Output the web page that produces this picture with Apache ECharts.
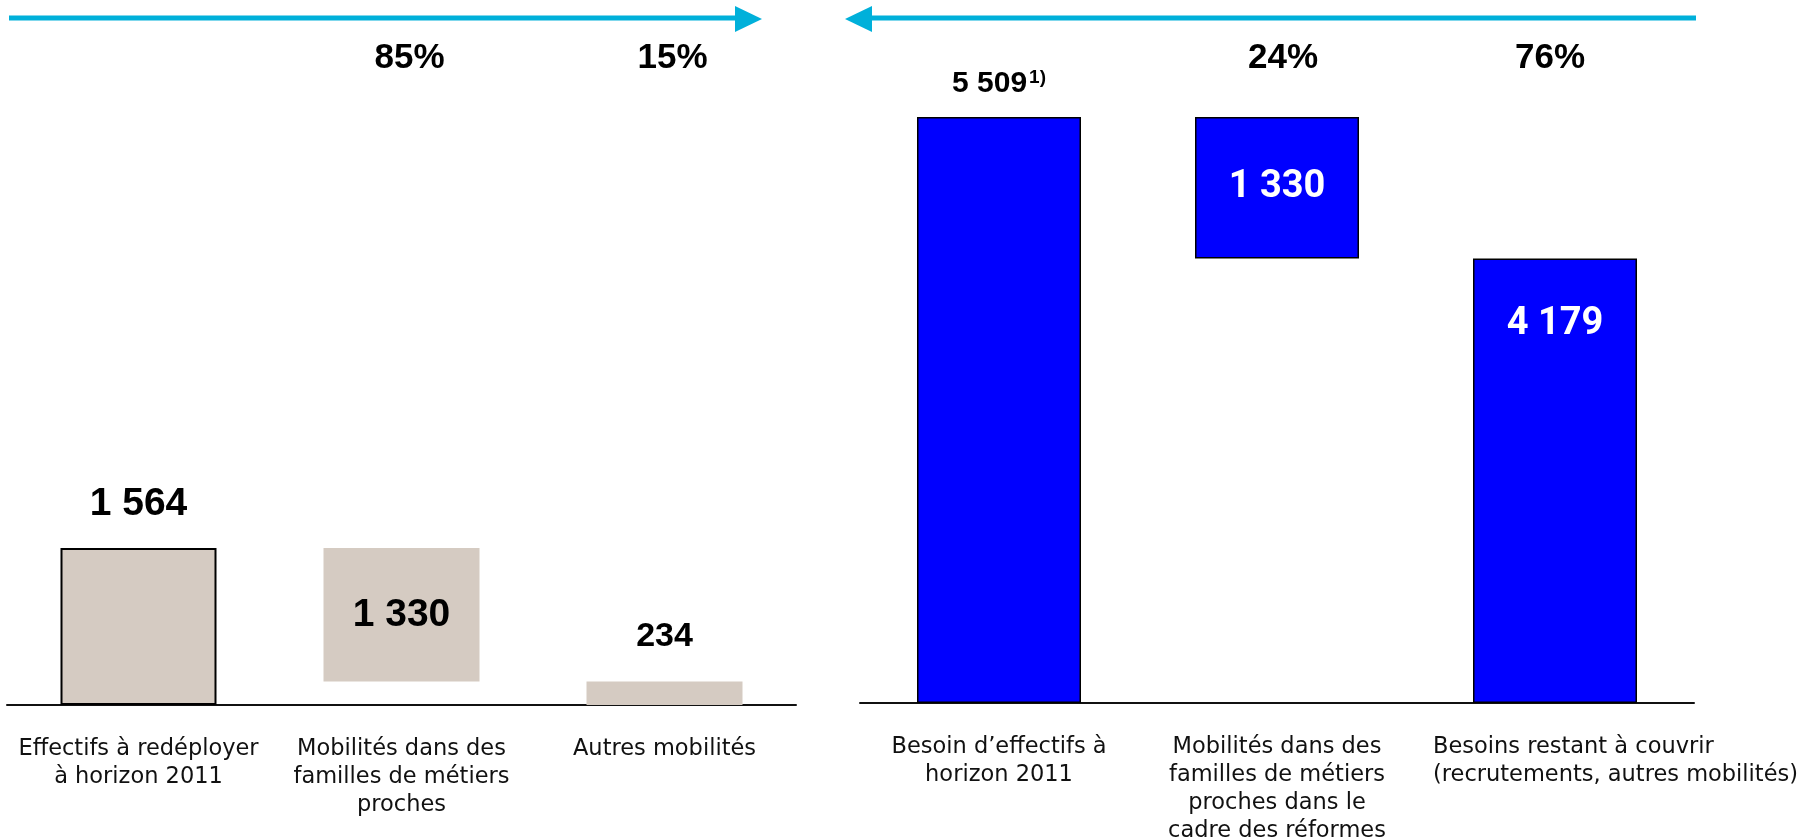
<!DOCTYPE html>
<html>
<head>
<meta charset="utf-8">
<script src="https://cdn.jsdelivr.net/npm/echarts@6/dist/echarts.min.js"></script>
<style>
html,body{margin:0;padding:0;background:#fff;}
#chart{width:1800px;height:839px;}
</style>
</head>
<body>
<div id="chart"></div>
<script>
// ---- data ----
const leftCategories = ['Effectifs à redéployer\nà horizon 2011', 'Mobilités dans des\nfamilles de métiers\nproches', 'Autres mobilités'];
const leftBase = [0, 234, 0];
const leftValues = [1564, 1330, 234];
const leftValueLabels = ['1 564', '1 330', '234'];
const leftShares = ['', '85%', '15%'];

const rightCategories = ['Besoin d’effectifs à\nhorizon 2011', 'Mobilités dans des\nfamilles de métiers\nproches dans le\ncadre des réformes', 'Besoins restant à couvrir\n(recrutements, autres mobilités)'];
const rightBase = [0, 4179, 0];
const rightValues = [5509, 1330, 4179];
const rightValueLabels = ['5 509', '1 330', '4 179'];
const rightShares = ['', '24%', '76%'];
const footnote = '1)';

// ---- styles ----
const BEIGE = '#D5CBC2';
const BLUE = '#0000FF';
const ARROW = '#00B0DA';
const NARROW = '"Liberation Sans Narrow", "Arial Narrow", "Liberation Sans", sans-serif';
const CAT_FONT = '"DejaVu Sans", sans-serif';
const CAT_SIZE = 22.5;
const leftShareShift = [0, 8, 8];
const rightShareShift = [0, 6, -5];

const chart = echarts.init(document.getElementById('chart'), null, {renderer: 'canvas'});

const leftData = leftValues.map((v, i) => {
  const item = {value: v, itemStyle: {color: BEIGE}};
  if (i === 0) { item.itemStyle.borderColor = '#000'; item.itemStyle.borderWidth = 2; }
  if (i === 1) item.label = {position: 'inside', distance: 0};
  if (i === 2) item.label = {position: 'top', distance: 28, fontSize: 34};
  return item;
});

const rightData = rightValues.map((v, i) => {
  const item = {value: v};
  if (i === 0) item.label = {position: 'top', distance: 18,
    formatter: '{n|' + rightValueLabels[0] + '}{s|' + footnote + '}'};
  if (i === 1) item.label = {position: 'inside'};
  if (i === 2) item.label = {position: 'insideTop', distance: 47};
  return item;
});

const catLabel = {
  interval: 0,
  margin: 30,
  color: '#111',
  fontFamily: CAT_FONT,
  fontSize: CAT_SIZE,
  lineHeight: 28
};

const option = {
  animation: false,
  backgroundColor: '#fff',
  grid: [
    {left: 7, top: 117, width: 789, height: 588, outerBoundsMode: 'none', containLabel: false},
    {left: 860, top: 117, width: 834, height: 586, outerBoundsMode: 'none', containLabel: false}
  ],
  xAxis: [
    {type: 'category', gridIndex: 0, data: leftCategories,
     axisLine: {lineStyle: {color: '#111', width: 2}}, axisTick: {show: false},
     axisLabel: catLabel},
    {type: 'category', gridIndex: 1, data: rightCategories,
     axisLine: {lineStyle: {color: '#111', width: 2}}, axisTick: {show: false},
     axisLabel: Object.assign({}, catLabel, {
       formatter: function (val, idx) {
         if (idx === 2) {
           return val.split('\n').map(s => '{l|' + s + '}').join('\n');
         }
         return val;
       },
       rich: {l: {width: 370, align: 'left', padding: [0, 0, 0, 126], fontFamily: CAT_FONT, fontSize: CAT_SIZE, lineHeight: 28, color: '#111'}}
     })}
  ],
  yAxis: [
    {type: 'value', gridIndex: 0, min: 0, max: 5860, show: false, splitLine: {show: false}},
    {type: 'value', gridIndex: 1, min: 0, max: 5509, show: false, splitLine: {show: false}}
  ],
  series: [
    {type: 'bar', xAxisIndex: 0, yAxisIndex: 0, stack: 'L', data: leftBase, barWidth: 156,
     itemStyle: {color: 'rgba(0,0,0,0)'}, silent: true},
    {type: 'bar', xAxisIndex: 0, yAxisIndex: 0, stack: 'L', data: leftData, barWidth: 156,
     label: {show: true, position: 'top', distance: 24, color: '#000', fontFamily: NARROW,
             fontWeight: 'bold', fontSize: 39,
             formatter: p => leftValueLabels[p.dataIndex]}},
    {type: 'bar', xAxisIndex: 1, yAxisIndex: 1, stack: 'R', data: rightBase, barWidth: 164,
     itemStyle: {color: 'rgba(0,0,0,0)'}, silent: true},
    {type: 'bar', xAxisIndex: 1, yAxisIndex: 1, stack: 'R', data: rightData, barWidth: 164,
     itemStyle: {color: BLUE, borderColor: '#000', borderWidth: 1.5},
     label: {show: true, color: '#fff', fontFamily: 'Roboto, sans-serif', fontWeight: 'bold', fontSize: 38,
             formatter: p => rightValueLabels[p.dataIndex],
             rich: {
               n: {fontFamily: '"Liberation Sans", sans-serif', fontWeight: 'bold', fontSize: 30, color: '#000'},
               s: {fontFamily: '"Liberation Sans", sans-serif', fontWeight: 'bold', fontSize: 19, color: '#000', verticalAlign: 'top', padding: [0, 0, 12, 2]}
             }}}
  ]
};
chart.setOption(option);

// percentage shares + arrows (decoration)
const graphics = [];
function addShares(shares, shifts, xAxisIndex, cats) {
  shares.forEach((s, i) => {
    if (!s) return;
    const x = chart.convertToPixel({xAxisIndex: xAxisIndex}, cats[i]) + shifts[i];
    graphics.push({type: 'text', x: x, y: 58,
      style: {text: s, fill: '#000', font: 'bold 35px ' + NARROW, textAlign: 'center', textVerticalAlign: 'middle'}});
  });
}
addShares(leftShares, leftShareShift, 0, leftCategories);
addShares(rightShares, rightShareShift, 1, rightCategories);

// right-pointing arrow over left panel
graphics.push({type: 'line', shape: {x1: 9, y1: 18, x2: 740, y2: 18}, style: {stroke: ARROW, lineWidth: 5}});
graphics.push({type: 'polygon', shape: {points: [[735, 6], [762, 19], [735, 32]]}, style: {fill: ARROW}});
// left-pointing arrow over right panel
graphics.push({type: 'line', shape: {x1: 865, y1: 18, x2: 1696, y2: 18}, style: {stroke: ARROW, lineWidth: 5}});
graphics.push({type: 'polygon', shape: {points: [[872, 6], [845, 19], [872, 32]]}, style: {fill: ARROW}});

chart.setOption({graphic: graphics});
</script>
</body>
</html>
